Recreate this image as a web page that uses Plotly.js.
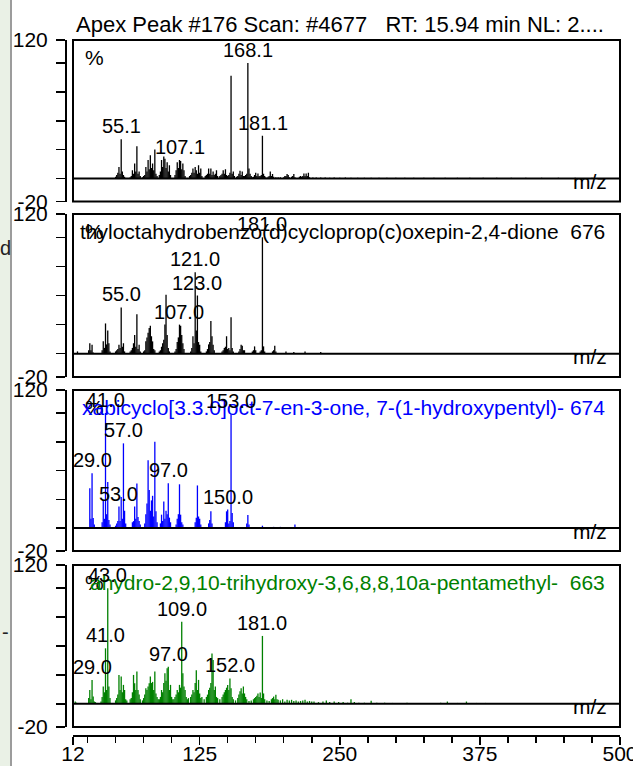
<!DOCTYPE html>
<html>
<head>
<meta charset="utf-8">
<script src="https://cdn.plot.ly/plotly-3.0.1.min.js"></script>
<style>
  html, body { margin: 0; padding: 0; background: #ffffff; }
  #chart { width: 633px; height: 766px; }
</style>
</head>
<body>
<div id="chart"></div>
<script>
// ---------------- DATA ----------------
const titleText = "Apex Peak #176 Scan: #4677   RT: 15.94 min NL: 2....";
const axisLabel = "m/z";
const xTickVals = [12, 125, 250, 375, 500];
const xMinorTicks = [25,50,75,100,125,150,175,200,225,250,275,300,325,350,375,400,425,450,475];
const yTickVals = [120, 100, 75, 50, 25, 0, -20];
const yTickText = ["120", "", "", "", "", "", "-20"];

// Panel 1: measured spectrum
const mzSample = [50,51,52,53,54,55,56,57,58,63,64,65,66,67,68,69,70,71,72,74,75,76,77,78,79,80,81,82,83,84,85,86,87,
  89,90,91,92,93,94,95,96,97,98,99,103,104,105,106,107,108,109,110,111,112,116,117,118,119,120,121,122,123,124,125,126,127,
  130,131,132,133,134,135,136,137,138,139,140,141,143,144,145,146,147,148,149,150,151,152,153,154,155,156,
  158,159,160,161,162,163,164,165,166,167,168,169,170,171,172,173,174,175,176,177,178,179,180,181,182,183,184,
  186,187,188,189,190,191,193,195,197,200,201,202,203,204,205,207,208,209,210,214,215,216,217,218,219,220,221,222,223,
  226,229,233,237,241,245,250,255,260,266,272,278,285,292,300,308,316,325,334,344,355,366,378,390,403,416,430,445,460,475,490];
const intSample = [1.5,3,5,10,4,34,6,3,1.5,1,2,7,4,13,6,28,4,6,2,1,2,3,10,6,16,8,20,9,13,7,25,4,2,
  3,6,16,10,19,17,9,14,6,11.5,3,3,7,14,9,16,15,8,13,7,2,2,3,5,8.7,5,10,7,4,11.5,5,8.7,2,
  2,3,4,8.7,4,8.7,3,6,3,4,7,2,2,3,4,7,4,8,3,2,3,5,89,4,6,2,
  1.5,2,4,6.6,3,6,2,2,3,4,100,8.7,4,2,1,1.5,3,5,2,4.3,2,2,3,37,4,2,1,
  1.5,2,6,2,3.8,1.5,1,1,1,1,2,2,3.8,2.9,1,1.5,2,3.8,1,1.5,2,1.5,2,4.3,2,4.3,2,5,1,
  0.8,0.8,0.7,0.8,0.6,0.7,0.6,0.7,0.6,0.6,0.5,0.6,0.5,0.6,0.5,0.5,0.5,0.6,0.5,0.5,0.5,0.5,0.5,0.5,0.5,0.5,0.5,0.5,0.5,0.5];
const labelsSample = [55.1, 107.1, 168.1, 181.1];

// Panel 2: library hit 1
const nameHit1 = "thyloctahydrobenzo(d)cycloprop(c)oxepin-2,4-dione  676";
const mzHit1 = [16,26,27,28,29,30,38,39,40,41,42,43,44,45,50,51,52,53,54,55,56,57,58,63,64,65,66,67,68,69,70,71,72,
  75,76,77,78,79,80,81,82,83,84,85,89,90,91,92,93,94,95,96,97,98,103,104,105,106,107,108,109,110,111,
  117,118,119,120,121,122,123,124,125,126,131,132,133,134,135,136,137,138,145,146,147,148,149,150,151,152,153,154,155,
  160,161,162,163,164,165,172,173,174,175,179,180,181,182,183,190,191,192,193,202,209,219,233];
const intHit1 = [2,3,9,3,7.7,1,3,10.6,5,26,8,20,9,2,2,3,4,7.7,5,39.7,6,9,2,2,3,5,9,16,6,34,4,7.7,2,
  2,3,10.6,14,18,22,24,15,10.6,4,3,2,3,6,9,12,25,50.6,16,5,2,2,4,10,14,25,24,16,9,4,
  2,5,15,9,70,20,50,10,7.7,2,2,4,8,10,28,15,7.7,3,2,3,5,6,15,4,5,3,31.4,5,2,
  2,4,7.7,6.9,3,3,2,3,6.3,3,2,3,100,6.3,2,2,3,6.9,2,2,1.5,2,1.5];
const labelsHit1 = [55.0, 107.0, 121.0, 123.0, 181.0];

// Panel 3: library hit 2
const nameHit2 = "xabicyclo[3.3.0]oct-7-en-3-one, 7-(1-hydroxypentyl)- 674";
const mzHit2 = [27,28,29,30,31,38,39,40,41,42,43,44,45,50,51,52,53,54,55,56,57,58,59,65,66,67,68,69,70,71,72,
  76,77,78,79,80,81,82,83,84,85,86,87,90,91,92,93,94,95,96,97,98,99,104,105,106,107,108,109,110,
  121,122,123,124,125,126,133,134,135,136,148,149,150,151,152,153,154,155,167,168,169,181,191,197,210];
const intHit2 = [34.5,8,47.5,8.7,3,5,24,8,100,12,40,7,3,2,4,6,18.6,6,27,8,73.6,15,4,5,6,18.6,8,38.8,9.6,6,3,
  4,12,21.4,59,33,15,24,28,10,75,14.5,5,4,11.6,6,23,8,15,12,39,9,5,3,8,12,38,11.6,5,3,
  5,9,37,10,8,3,4,7,14.5,4,5,14.5,16,4,6,99,13,5,4,11.3,3,2,1,1,3];
const labelsHit2 = [29.0, 41.0, 53.0, 57.0, 97.0, 150.0, 153.0];

// Panel 4: library hit 3
const nameHit3 = "ahydro-2,9,10-trihydroxy-3,6,8,8,10a-pentamethyl-  663";
const mzHit3 = [14,15,26,27,28,29,30,31,32,37,38,39,40,41,42,43,44,45,50,51,52,53,54,55,56,57,58,59,60,
  63,64,65,66,67,68,69,70,71,72,74,75,76,77,78,79,80,81,82,83,84,85,86,87,88,
  89,90,91,92,93,94,95,96,97,98,99,100,101,102,103,104,105,106,107,108,109,110,111,112,113,114,
  115,117,118,119,120,121,122,123,124,125,126,127,129,131,132,133,134,135,136,137,138,139,140,141,
  143,145,146,147,148,149,150,151,152,153,154,155,157,159,160,161,162,163,164,165,166,167,
  169,171,173,174,175,176,177,178,179,180,181,182,183,185,187,189,190,191,192,193,194,195,
  197,199,201,203,205,207,209,211,213,215,217,219,221,223,225,227,231,235,238,241,245,249,253,257,260,263,267,272,278,283,290,297,303,310,318,325,333,340,346,355,363,372,380,390,405];
const intHit3 = [2,1,5,12,4,20.7,6.3,2,1.5,2,6,15,10,48,12,100,15,5,3,5,8,25,12,23.6,10,16.4,12,4,3,
  4,5,10,25,17.8,12,28,12,8,4,3,5,8,13.5,12,15,17.8,23.6,18,19,12,28,9,6,4,
  4,6,12,10,18,26.5,20,30.8,32,12,16.4,6,4,4,6,8,12,10,16.4,14,71,26.5,15,12,6,4,
  5,6,8,12,10,18,29,12,20.7,9,5,6,4,6,8,12,14,18,43.6,38,12,15,6,5,
  4,6,8,10,12,14,16.4,12,22,13.5,6,4,3,5,8,11,13.5,9,15,9,6,4,
  2.5,3,4,5,6,7,9,6,9.8,5,58.7,9,4,3,2.5,4,5,6.3,4,7.8,4,3.5,
  3,4,2,3.5,3,3.5,2.5,3,2,2.5,3,3.5,2,2.5,2,2,1.5,2,3,1.5,2,1.5,1.5,1,4,1.5,1,1,2.6,1,1,0.8,0.8,1,0.8,0.8,0.8,1,2,0.8,2,0.8,0.8,0.6,0.6];
const labelsHit3 = [29.0, 41.0, 43.0, 97.0, 109.0, 152.0, 181.0];

// Background screen fragments
const leftFragments = ["d", "-"];

// ---------------- LAYOUT GEOMETRY ----------------
const W = 633, H = 766;
const mL = 66, mR = 13, mT = 40, mB = 30;
const PW = W - mL - mR, PH = H - mT - mB;
const px = x => (x - mL) / PW;          // pixel -> paper x
const py = y => (H - mB - y) / PH;      // pixel -> paper y
const FONT = "Liberation Sans, Arial, Helvetica, sans-serif";

const panels = [
  {mz: mzSample, inten: intSample, labels: labelsSample, color: "#000000", name: null, nameColor: null, top: 40, bot: 201.5},
  {mz: mzHit1, inten: intHit1, labels: labelsHit1, color: "#000000", name: nameHit1, nameColor: "#000000", top: 214, bot: 377},
  {mz: mzHit2, inten: intHit2, labels: labelsHit2, color: "#0000ff", name: nameHit2, nameColor: "#0000ff", top: 390, bot: 551},
  {mz: mzHit3, inten: intHit3, labels: labelsHit3, color: "#008000", name: nameHit3, nameColor: "#008000", top: 565, bot: 727}
];

const traces = [];
const shapes = [];
const annotations = [];
const layout = {
  width: W, height: H,
  margin: {l: mL, r: mR, t: mT, b: mB, pad: 0},
  paper_bgcolor: "#ffffff", plot_bgcolor: "rgba(0,0,0,0)",
  showlegend: false,
  font: {family: FONT, size: 20, color: "#000000"},
  xaxis: {
    domain: [px(73), 1], range: [12, 500], anchor: "free", position: 0,
    showline: true, linecolor: "#000", linewidth: 2, mirror: false,
    showgrid: false, zeroline: false, fixedrange: true,
    tickmode: "array", tickvals: xTickVals, ticktext: xTickVals.map(String),
    ticks: "outside", ticklen: 8, tickwidth: 1.5, tickcolor: "#000",
    ticklabelstandoff: -9, ticklabeloverflow: "allow",
    tickfont: {family: FONT, size: 21, color: "#000"},
    minor: {tickmode: "array", tickvals: xMinorTicks, ticks: "outside", ticklen: 6, tickwidth: 1.5, tickcolor: "#000", showgrid: false}
  },
  shapes: shapes, annotations: annotations
};

function nearestIntensity(mz, inten, m) {
  let best = 0, bd = Infinity;
  mz.forEach((v, i) => { const d = Math.abs(v - m); if (d < bd) { bd = d; best = inten[i]; } });
  return best;
}

panels.forEach((p, k) => {
  const yName = k === 0 ? "yaxis" : "yaxis" + (k + 1);
  const yRef = k === 0 ? "y" : "y" + (k + 1);
  layout[yName] = {
    domain: [py(p.bot), py(p.top)], range: [-20, 120], anchor: "free", position: 0,
    showline: true, linecolor: "#000", linewidth: 2,
    showgrid: false, zeroline: false, fixedrange: true,
    tickmode: "array", tickvals: yTickVals, ticktext: yTickText,
    ticks: "outside", ticklen: 9, tickwidth: 1.5, tickcolor: "#000",
    ticklabelstandoff: 4, ticklabeloverflow: "allow",
    tickfont: {family: FONT, size: 21, color: "#000"}
  };
  // stick spectrum
  const xs = [], ys = [];
  p.mz.forEach((m, i) => { xs.push(m, m, null); ys.push(0, p.inten[i], null); });
  traces.push({
    type: "scatter", mode: "lines", x: xs, y: ys, xaxis: "x", yaxis: yRef,
    line: {color: p.color, width: 1.3}, hoverinfo: "skip", connectgaps: false
  });
  // frame box
  shapes.push({type: "rect", xref: "x domain", yref: yRef + " domain", x0: 0, x1: 1, y0: 0, y1: 1,
    line: {color: "#000", width: 2}, fillcolor: "rgba(0,0,0,0)", layer: "above"});
  // baseline
  shapes.push({type: "line", xref: "x domain", yref: yRef, x0: 0, x1: 1, y0: 0, y1: 0,
    line: {color: "#000", width: 2}, layer: "above"});
  // m/z label
  annotations.push({xref: "paper", yref: yRef, x: px(609), y: 0, xanchor: "right", yanchor: "middle", yshift: -3,
    text: axisLabel, showarrow: false, font: {family: FONT, size: 21, color: "#000"}});
  // percent sign
  annotations.push({xref: "paper", yref: "paper", x: px(94), y: py(p.top + 17), xanchor: "center", yanchor: "middle",
    text: "%", showarrow: false, font: {family: FONT, size: 21, color: "#000"}});
  // compound name
  if (p.name) {
    annotations.push({xref: "paper", yref: "paper", x: px(607), y: py(p.top + 17), xanchor: "right", yanchor: "middle",
      text: p.name, showarrow: false, font: {family: FONT, size: 21, color: p.nameColor}});
  }
  // peak labels
  p.labels.forEach(m => {
    annotations.push({xref: "x", yref: yRef, x: m, y: nearestIntensity(p.mz, p.inten, m),
      xanchor: "center", yanchor: "bottom", text: m.toFixed(1), showarrow: false,
      font: {family: FONT, size: 20, color: "#000"}});
  });
});

// title
annotations.push({xref: "paper", yref: "paper", x: px(340), y: py(24), xanchor: "center", yanchor: "middle",
  text: titleText, showarrow: false, font: {family: FONT, size: 22, color: "#000"}});

// background window fragments at the left edge
shapes.push({type: "rect", xref: "paper", yref: "paper", x0: px(0), x1: px(10), y0: py(H), y1: py(0),
  fillcolor: "#eaf1e6", line: {width: 0}, layer: "below"});
shapes.push({type: "line", xref: "paper", yref: "paper", x0: px(11), x1: px(11), y0: py(H), y1: py(0),
  line: {color: "#9c9c9c", width: 2}});
annotations.push({xref: "paper", yref: "paper", x: px(5), y: py(248), xanchor: "center", yanchor: "middle",
  text: leftFragments[0], showarrow: false, font: {family: FONT, size: 20, color: "#222"}});
annotations.push({xref: "paper", yref: "paper", x: px(5), y: py(632), xanchor: "center", yanchor: "middle",
  text: leftFragments[1], showarrow: false, font: {family: FONT, size: 20, color: "#222"}});

Plotly.newPlot("chart", traces, layout, {staticPlot: true, displayModeBar: false});
</script>
</body>
</html>
